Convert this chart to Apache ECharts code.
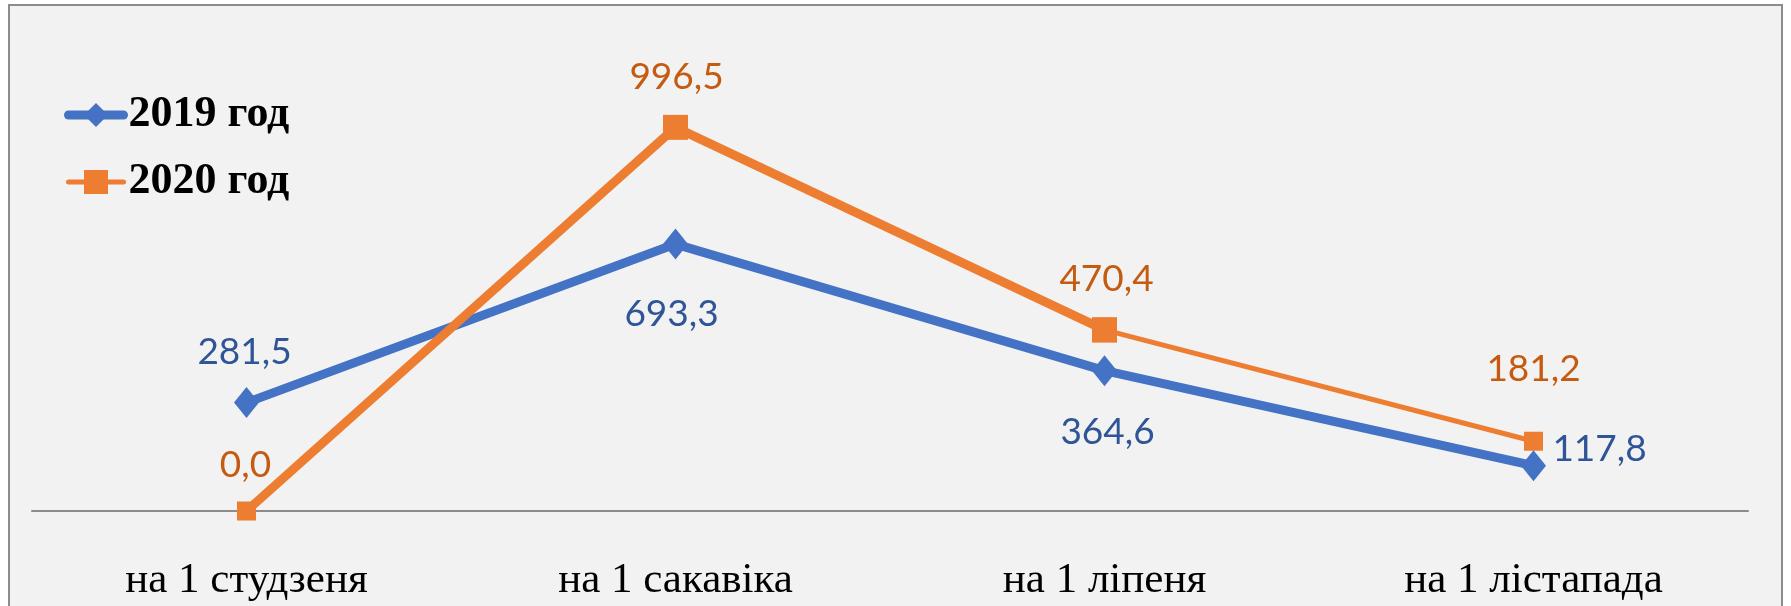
<!DOCTYPE html>
<html>
<head>
<meta charset="utf-8">
<script src="https://cdn.jsdelivr.net/npm/echarts@6/dist/echarts.min.js"></script>
<style>
  html, body { margin: 0; padding: 0; background: #fff; }
  #chart { width: 1791px; height: 606px; }
</style>
</head>
<body>
<div id="chart"></div>
<script>
const categories = ['на 1 студзеня', 'на 1 сакавіка', 'на 1 ліпеня', 'на 1 лістапада'];
const values2019 = [281.5, 693.3, 364.6, 117.8];
const values2020 = [0.0, 996.5, 470.4, 181.2];

// label offsets from the marker centre (px)
const off2019 = [[-2, -51], [-4, 70], [3, 61], [66, -17]];
const off2020 = [[-1, -46], [1, -50], [2, -51], [0, -72]];

const fmt = v => v.toFixed(1).replace('.', ',');

const chart = echarts.init(document.getElementById('chart'));

const labelBase = {
  show: true,
  position: 'inside',
  fontFamily: 'Lato',
  fontSize: 37,
  formatter: p => fmt(p.value)
};

chart.setOption({
  animation: false,
  backgroundColor: '#fff',
  graphic: [{
    type: 'rect',
    z: -10,
    shape: { x: 9, y: 5, width: 1773, height: 700 },
    style: { fill: '#F2F2F2', stroke: '#8C8C8C', lineWidth: 2 }
  }],
  grid: { left: 32, right: 43, top: 49, bottom: 95 },
  legend: {
    orient: 'vertical',
    left: 64,
    top: 90,
    padding: 0,
    itemWidth: 55,
    itemHeight: 30,
    itemGap: 17,
    textStyle: {
      fontFamily: 'Liberation Serif',
      fontWeight: 'bold',
      fontSize: 44,
      lineHeight: 50,
      color: '#000'
    },
    data: [
      { name: '2019 год', lineStyle: { width: 9, cap: 'round' } },
      { name: '2020 год', lineStyle: { width: 5, cap: 'round' } }
    ]
  },
  xAxis: {
    type: 'category',
    data: categories,
    boundaryGap: true,
    axisLine: { lineStyle: { color: '#8C8C8C', width: 2 } },
    axisTick: { show: false },
    axisLabel: {
      margin: 48,
      fontFamily: 'Liberation Serif',
      fontSize: 43,
      color: '#000'
    }
  },
  yAxis: {
    type: 'value',
    min: 0,
    max: 1200,
    show: false,
    splitLine: { show: false }
  },
  series: [
    {
      name: '2019 год',
      type: 'line',
      z: 3,
      symbol: 'diamond',
      symbolSize: [25, 31],
      color: '#4472C4',
      lineStyle: { width: 9, color: '#4472C4' },
      itemStyle: { color: '#4472C4' },
      data: values2019.map((v, i) => ({
        value: v,
        label: Object.assign({}, labelBase, { color: '#2F5597', offset: off2019[i] })
      }))
    },
    {
      name: '2020 год',
      type: 'line',
      z: 4,
      symbol: 'rect',
      symbolSize: (v, p) => (p.dataIndex === 1 || p.dataIndex === 2) ? 25 : 19,
      color: '#ED7D31',
      lineStyle: { width: 9, color: '#ED7D31' },
      itemStyle: { color: '#ED7D31' },
      data: values2020.map((v, i) => i < 3 ? {
        value: v,
        label: Object.assign({}, labelBase, { color: '#C55A11', offset: off2020[i] })
      } : '-')
    },
    {
      name: '2020 год',
      type: 'line',
      z: 3,
      symbol: 'rect',
      symbolSize: (v, p) => p.dataIndex === 2 ? 25 : 19,
      color: '#ED7D31',
      lineStyle: { width: 5, color: '#ED7D31' },
      itemStyle: { color: '#ED7D31' },
      data: values2020.map((v, i) => i < 2 ? '-' : (i === 3 ? {
        value: v,
        label: Object.assign({}, labelBase, { color: '#C55A11', offset: off2020[i] })
      } : v))
    }
  ]
});
</script>
</body>
</html>
